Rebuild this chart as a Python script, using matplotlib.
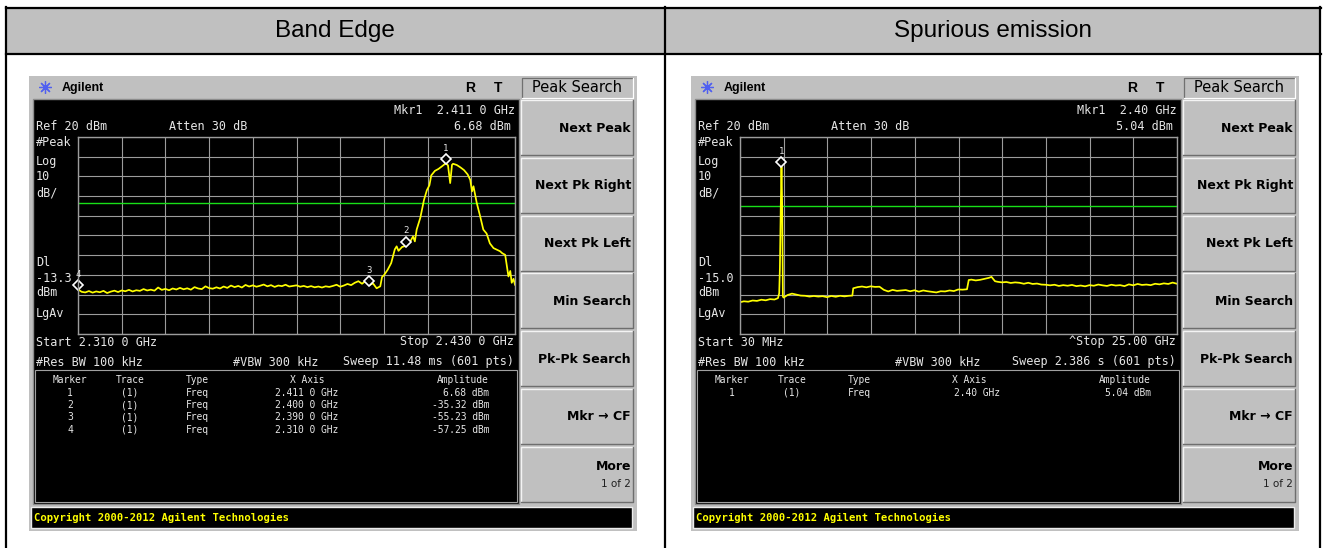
import numpy as np
import matplotlib.pyplot as plt
from matplotlib.patches import Rectangle
from matplotlib.transforms import offset_copy

W, H = 1325, 548
GRAY = '#c0c0c0'
TXT = '#e6e6e6'
MONO = 'DejaVu Sans Mono'

titles = ['Band Edge', 'Spurious emission']

# ---- band edge sweep: MHz / dBm ----
band_floor_mhz = list(range(2310, 2390))
band_floor_dbm = [-57.3, -58.6, -58.9, -58.2, -59.0, -58.4, -58.8, -58.1, -59.2, -58.5,
                  -58.0, -58.7, -57.9, -58.3, -57.6, -58.4, -57.8, -58.1, -57.2, -57.9,
                  -57.5, -58.0, -56.4, -57.6, -57.1, -57.8, -56.9, -57.4, -56.6, -57.3,
                  -56.8, -57.5, -56.2, -56.9, -57.2, -55.8, -56.7, -57.0, -56.3, -56.9,
                  -55.9, -56.6, -55.4, -56.2, -55.6, -56.4, -55.1, -55.9, -55.3, -56.0,
                  -55.5, -54.9, -55.8, -55.2, -56.1, -55.4, -55.7, -55.0, -55.9, -55.6,
                  -55.3, -56.0, -55.6, -56.2, -55.7, -56.3, -55.9, -56.4, -55.8, -56.1,
                  -55.6, -55.0, -56.0, -55.4, -54.6, -55.2, -54.0, -53.2, -54.5, -53.0]
band_edge_mhz = [2390, 2391, 2392, 2393, 2393.5, 2394, 2395, 2396, 2397, 2397.5,
                 2398, 2399, 2400, 2401, 2402, 2402.5, 2403, 2404, 2405, 2405.8,
                 2406.5, 2407, 2408, 2409, 2410, 2411, 2411.6, 2412.2, 2412.7, 2413,
                 2414, 2415, 2416, 2417, 2417.7, 2418.2, 2418.6, 2419.5, 2420.4, 2421.3,
                 2422.2, 2423.1, 2424.1, 2425, 2425.9, 2426.5, 2427.3, 2428.2, 2428.7, 2429.1,
                 2429.6, 2430]
band_edge_dbm = [-55.2, -54.3, -56.8, -55.8, -51.0, -50.2, -47.5, -44.0, -37.0, -35.5,
                 -37.8, -35.8, -35.3, -33.8, -30.5, -33.0, -27.0, -21.0, -12.0, -7.0,
                 -4.5, 0.5, 2.8, 3.8, 5.2, 6.68, 5.6, -3.4, 5.9, 6.4,
                 5.8, 4.6, 3.2, 1.0, -1.7, -7.6, -5.0, -13.5, -20.0, -27.0,
                 -29.0, -34.0, -36.4, -37.2, -38.0, -39.0, -39.8, -50.8, -48.0, -54.0,
                 -52.0, -55.0]
band_mkr_mhz = [2411.0, 2400.0, 2390.0, 2310.0]
band_mkr_dbm = [6.68, -35.32, -55.23, -57.25]
band_mkr_x_txt = ['2.411 0 GHz', '2.400 0 GHz', '2.390 0 GHz', '2.310 0 GHz']
band_mkr_amp_txt = ['6.68 dBm', '-35.32 dBm', '-55.23 dBm', '-57.25 dBm']

# ---- spurious sweep: GHz / dBm ----
spur_ghz = [0.03, 0.25, 0.5, 0.75, 1.0, 1.25, 1.5, 1.75, 2.0, 2.2,
            2.27, 2.31, 2.36, 2.40, 2.44, 2.48, 2.52, 2.75, 3.0, 3.25,
            3.5, 3.75, 4.0, 4.25, 4.5, 4.75, 5.0, 5.25, 5.5, 5.75,
            6.0, 6.25, 6.45, 6.5, 6.75, 7.0, 7.25, 7.5, 7.75, 8.0,
            8.25, 8.5, 8.75, 9.0, 9.25, 9.5, 9.75, 10.0, 10.25, 10.5,
            10.75, 11.0, 11.25, 11.5, 11.75, 12.0, 12.25, 12.5, 12.75, 13.0,
            13.1, 13.25, 13.5, 13.75, 14.0, 14.25, 14.4, 14.6, 14.75, 15.0,
            15.25, 15.5, 15.75, 16.0, 16.25, 16.5, 16.75, 17.0, 17.25, 17.5,
            17.75, 18.0, 18.25, 18.5, 18.75, 19.0, 19.25, 19.5, 19.75, 20.0,
            20.25, 20.5, 20.75, 21.0, 21.25, 21.5, 21.75, 22.0, 22.25, 22.5,
            22.75, 23.0, 23.25, 23.5, 23.75, 24.0, 24.25, 24.5, 24.75, 25.0]
spur_dbm = [-63.9, -63.4, -63.6, -63.0, -63.2, -62.6, -62.9, -62.3, -62.5, -61.8,
            -59.3, -46.6, -15.0, 5.04, -15.0, -61.0, -61.5, -60.2, -59.5, -60.0,
            -60.5, -60.6, -61.0, -60.7, -61.0, -60.8, -61.3, -60.7, -61.1, -60.6,
            -60.9, -60.6, -60.5, -56.8, -56.2, -55.9, -56.3, -55.8, -56.1, -56.0,
            -57.6, -58.4, -57.6, -58.1, -57.9, -57.7, -58.3, -57.8, -58.5, -57.9,
            -58.3, -58.6, -58.9, -58.3, -58.4, -57.9, -58.2, -57.4, -57.5, -57.3,
            -52.6, -52.4, -52.8, -52.5, -52.0, -51.5, -51.0, -53.2, -53.5, -53.8,
            -53.6, -54.1, -53.8, -54.0, -54.5, -54.0, -54.6, -54.4, -54.9, -55.0,
            -55.3, -55.0, -55.6, -55.2, -55.5, -55.1, -55.7, -55.4, -55.8, -55.2,
            -55.5, -54.9, -55.3, -55.6, -55.0, -55.4, -55.2, -55.7, -54.8, -55.3,
            -54.6, -55.1, -54.9, -55.2, -54.5, -54.8, -54.3, -54.6, -53.9, -54.5]
spur_mkr_ghz = [2.40]
spur_mkr_dbm = [5.04]
spur_mkr_x_txt = ['2.40 GHz']
spur_mkr_amp_txt = ['5.04 dBm']

ref_level = 20
db_div = 10
softkeys = ['Next Peak', 'Next Pk Right', 'Next Pk Left', 'Min Search',
            'Pk-Pk Search', 'Mkr \u2192 CF']

fig = plt.figure(figsize=(W / 100, H / 100), dpi=100)
bg = fig.add_axes([0, 0, 1, 1])
bg.set_xlim(0, W)
bg.set_ylim(H, 0)
bg.axis('off')


def t(x, y, s, ha='left', size=8.5, color=TXT, family=MONO, weight='normal'):
    bg.text(x, y, s, ha=ha, va='center', fontsize=size, color=color,
            family=family, fontweight=weight)


# table frame + header
bg.add_patch(Rectangle((6, 8), 1314, 45, fc=GRAY, ec='none'))
for xs, ys in [([5.5, 1320.5], [7.5, 7.5]), ([5.5, 1320.5], [53.5, 53.5]),
               ([5.5, 5.5], [7, 548]), ([665, 665], [7, 548]),
               ([1320, 1320], [7, 548])]:
    bg.plot(xs, ys, color='black', lw=1.6, solid_capstyle='projecting')
t(335, 31, titles[0], ha='center', size=17.5, color='black', family='Liberation Sans')
t(992.5, 31, titles[1], ha='center', size=17.5, color='black', family='Liberation Sans')


def screen(dx, tx, ty, xlim, dl, mkr_x, mkr_y, info, rows):
    # instrument frame and title bar
    bg.add_patch(Rectangle((29 + dx, 76), 608, 455, fc=GRAY, ec='none'))
    bg.plot(45 + dx, 87, marker=(8, 2, 0), ms=9, color='#5060f0', mew=0.9)
    bg.plot(45 + dx, 87, marker='o', ms=3, mfc='none', mec='#5060f0', mew=0.7)
    t(62 + dx, 88, 'Agilent', size=9, color='black', family='Liberation Sans', weight='bold')
    t(470 + dx, 88, 'R', ha='center', size=10, color='black', family='Liberation Sans', weight='bold')
    t(498 + dx, 88, 'T', ha='center', size=10, color='black', family='Liberation Sans', weight='bold')

    # black display
    bg.add_patch(Rectangle((33 + dx, 99), 486, 405, fc='black', ec='#8c8c8c', lw=1))
    bg.add_patch(Rectangle((35 + dx, 370), 482, 132, fc='black', ec='#a0a0a0', lw=0.8))

    t(515 + dx, 110, info['mkr'], ha='right')
    t(36 + dx, 127, 'Ref 20 dBm')
    t(169 + dx, 127, 'Atten 30 dB')
    t(511 + dx, 127, info['amp'], ha='right')
    for y, s in [(143, '#Peak'), (161, 'Log'), (177, '10'), (193, 'dB/'),
                 (263, 'Dl'), (278, info['dl']), (293, 'dBm'), (313, 'LgAv')]:
        t(36 + dx, y, s)
    t(36 + dx, 342, info['start'])
    t(514 + dx, 342, info['stop'], ha='right')
    t(36 + dx, 362, '#Res BW 100 kHz')
    t(233 + dx, 362, '#VBW 300 kHz')
    t(514 + dx, 362, info['sweep'], ha='right')

    t(70 + dx, 380, 'Marker', ha='center', size=6.9)
    t(130 + dx, 380, 'Trace', ha='center', size=6.9)
    t(186 + dx, 380, 'Type', size=6.9)
    t(307 + dx, 380, 'X Axis', ha='center', size=6.9)
    t(489 + dx, 380, 'Amplitude', ha='right', size=6.9)
    for i, (xs, amp) in enumerate(rows):
        y = 392.5 + 12.5 * i
        t(70 + dx, y, str(i + 1), ha='center', size=6.9)
        t(130 + dx, y, '(1)', ha='center', size=6.9)
        t(186 + dx, y, 'Freq', size=6.9)
        t(338 + dx, y, xs, ha='right', size=6.9)
        t(489 + dx, y, amp, ha='right', size=6.9)

    # softkeys
    bg.add_patch(Rectangle((522 + dx, 78), 111, 20, fc=GRAY, ec='none'))
    bg.plot([522 + dx, 522 + dx, 633 + dx], [98, 78, 78], color='#707070', lw=0.9)
    bg.plot([522 + dx, 633 + dx, 633 + dx], [98, 98, 78], color='white', lw=0.9)
    t(577 + dx, 88, 'Peak Search', ha='center', size=10.5, color='black', family='DejaVu Sans')
    labels = softkeys + ['More']
    for i, lab in enumerate(labels):
        top = 100 + 57.8 * i
        bg.add_patch(Rectangle((521 + dx, top), 112, 55, fc=GRAY, ec='none'))
        bg.plot([521 + dx, 521 + dx, 633 + dx], [top + 55, top, top], color='#f4f4f4', lw=1)
        bg.plot([521 + dx, 633 + dx, 633 + dx], [top + 55, top + 55, top], color='#6e6e6e', lw=1)
        if lab == 'More':
            t(631 + dx, top + 20, lab, ha='right', size=9, color='black',
              family='DejaVu Sans', weight='bold')
            t(631 + dx, top + 37, '1 of 2', ha='right', size=7.5, color='#202020',
              family='DejaVu Sans')
        else:
            t(631 + dx, top + 28, lab, ha='right', size=9, color='black',
              family='DejaVu Sans', weight='bold')

    # copyright bar
    bg.add_patch(Rectangle((31 + dx, 507), 601, 21, fc='black', ec='#ececec', lw=1))
    t(34 + dx, 518, 'Copyright 2000-2012 Agilent Technologies', size=7.6,
      color='#ffff00', weight='bold')

    # graticule with trace
    ax = fig.add_axes([(78 + dx) / W, 1 - 334 / H, 437 / W, 197 / H])
    ax.set_facecolor('black')
    ax.set_xlim(*xlim)
    ax.set_ylim(ref_level - 10 * db_div, ref_level)
    ax.set_xticks(np.linspace(xlim[0], xlim[1], 11))
    ax.set_yticks(np.arange(ref_level - 10 * db_div, ref_level + 1, db_div))
    ax.tick_params(length=0, labelbottom=False, labelleft=False)
    ax.grid(True, color='#9c9c9c', lw=0.8)
    for s in ax.spines.values():
        s.set_color('#9c9c9c')
        s.set_linewidth(1)
    ax.axhline(dl, color='#18e018', lw=1.0)
    ax.plot(tx, ty, color='#ffff00', lw=1.25)
    mk = offset_copy(ax.transData, fig=fig, x=0, y=4, units='dots')
    ax.plot(mkr_x, mkr_y, ls='none', marker='D', ms=5, mfc='black', mec='white',
            mew=1.2, transform=mk, clip_on=False)
    lab_tr = offset_copy(ax.transData, fig=fig, x=0, y=15, units='dots')
    for i, (mx, my) in enumerate(zip(mkr_x, mkr_y)):
        ax.text(mx, my, str(i + 1), transform=lab_tr, ha='center', va='center',
                color=TXT, fontsize=6.5, family=MONO, clip_on=False)


screen(0, band_floor_mhz + band_edge_mhz, band_floor_dbm + band_edge_dbm,
       (2310, 2430), -13.3, band_mkr_mhz, band_mkr_dbm,
       {'mkr': 'Mkr1  2.411 0 GHz', 'amp': '6.68 dBm', 'dl': '-13.3',
        'start': 'Start 2.310 0 GHz', 'stop': 'Stop 2.430 0 GHz',
        'sweep': 'Sweep 11.48 ms (601 pts)'},
       list(zip(band_mkr_x_txt, band_mkr_amp_txt)))

screen(662, spur_ghz, spur_dbm, (0.03, 25.0), -15.0, spur_mkr_ghz, spur_mkr_dbm,
       {'mkr': 'Mkr1  2.40 GHz', 'amp': '5.04 dBm', 'dl': '-15.0',
        'start': 'Start 30 MHz', 'stop': '^Stop 25.00 GHz',
        'sweep': 'Sweep 2.386 s (601 pts)'},
       list(zip(spur_mkr_x_txt, spur_mkr_amp_txt)))

fig.savefig('out.png', dpi=100, facecolor='white')
